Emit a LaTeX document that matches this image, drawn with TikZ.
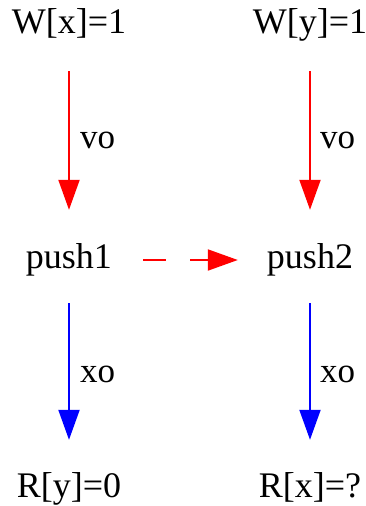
\documentclass[tikz,border=0pt]{standalone}
\usepackage{fontspec}
\setmainfont{Liberation Serif}
\usetikzlibrary{arrows.meta}
\begin{document}
\begin{tikzpicture}[x=1pt,y=-1pt,
  lbl/.style={inner sep=0pt, anchor=base, text height=24pt, text depth=8pt, font=\fontsize{36}{42}\selectfont},
  elbl/.style={inner sep=0pt, anchor=base west, font=\fontsize{35}{42}\selectfont},
  edge/.style={line width=2pt, -{Triangle[length=30pt,width=21pt]}},
  vedge/.style={edge, shorten <=30pt, shorten >=34pt},
  vedgeb/.style={edge, shorten <=27pt, shorten >=33pt}]
\useasboundingbox (0,0) rectangle (366,506);
\node[lbl] (wx) at (69,33) {W[x]=1};
\node[lbl] (wy) at (310,33) {W[y]=1};
\node[lbl] (p1) at (69,268) {push1};
\node[lbl] (p2) at (310,268) {push2};
\node[lbl] (ry) at (69,497) {R[y]=0};
\node[lbl] (rx) at (310,497) {R[x]=?};
\draw[vedge, red] (wx) -- (p1);
\draw[vedge, red] (wy) -- (p2);
\draw[vedgeb, blue] (p1) -- (ry);
\draw[vedgeb, blue] (p2) -- (rx);
\draw[edge, red, dash pattern=on 23pt off 24pt, shorten <=31pt, shorten >=29pt] (p1) -- (p2);
\node[elbl] (l1) at (80,148) {vo};
\node[elbl] (l2) at (320,148) {vo};
\node[elbl] (l3) at (80,382) {xo};
\node[elbl] (l4) at (320,382) {xo};
\end{tikzpicture}
\end{document}
